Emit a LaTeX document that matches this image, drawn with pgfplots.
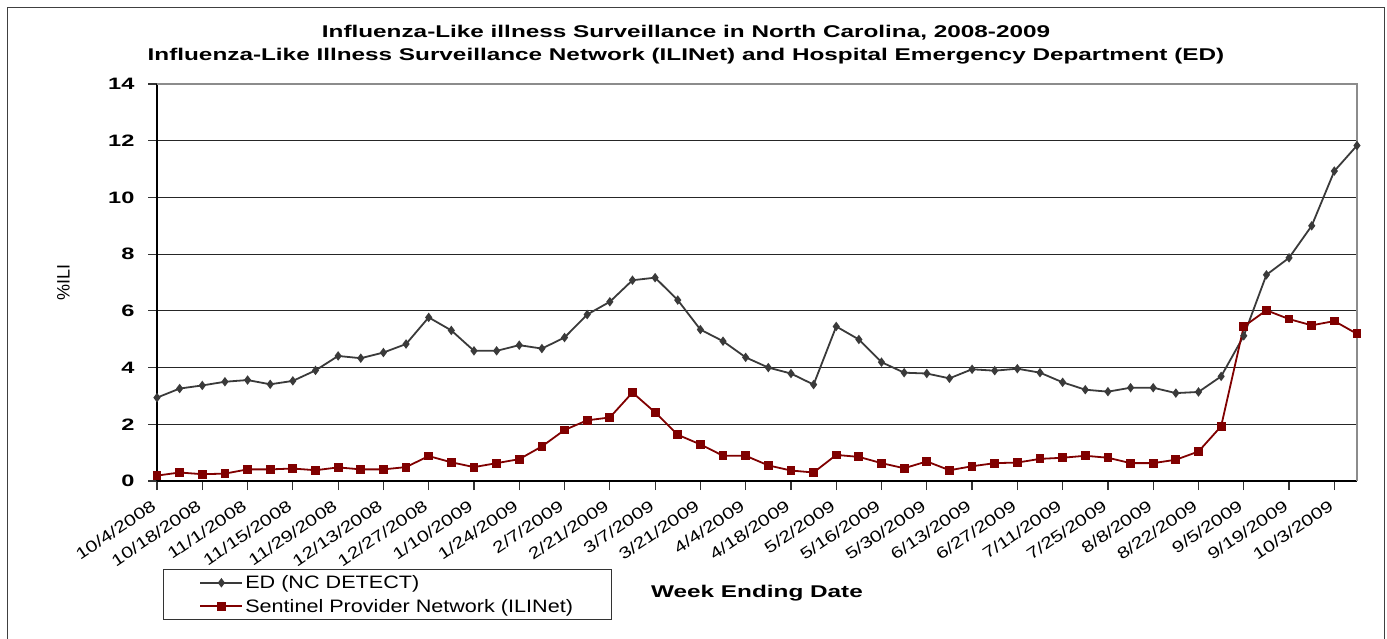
\documentclass[border=0pt]{standalone}
\usepackage{fontspec}
\setmainfont{Liberation Sans}[FakeStretch=1.43]
\newfontfamily\legfont{Liberation Sans}[FakeStretch=1.2]
\newfontfamily\xtfont{Liberation Sans}[FakeStretch=1.3]
\newfontfamily\plainfont{Liberation Sans}
\usepackage{pgfplots}
\pgfplotsset{compat=1.18}
\usepackage{pgfplotstable}
\definecolor{edgray}{HTML}{3A3A3A}
\definecolor{ilired}{HTML}{800000}
\pgfplotstableread{
x ed ili
0 2.94 0.19
1 3.26 0.30
2 3.37 0.24
3 3.50 0.26
4 3.56 0.41
5 3.41 0.41
6 3.53 0.44
7 3.90 0.38
8 4.41 0.48
9 4.33 0.41
10 4.53 0.41
11 4.83 0.49
12 5.77 0.88
13 5.31 0.66
14 4.59 0.49
15 4.59 0.63
16 4.79 0.77
17 4.67 1.22
18 5.06 1.80
19 5.87 2.14
20 6.32 2.24
21 7.08 3.12
22 7.17 2.42
23 6.38 1.63
24 5.34 1.29
25 4.93 0.89
26 4.36 0.89
27 4.00 0.55
28 3.79 0.37
29 3.40 0.30
30 5.45 0.92
31 4.99 0.85
32 4.19 0.63
33 3.82 0.45
34 3.79 0.69
35 3.62 0.38
36 3.94 0.52
37 3.89 0.63
38 3.96 0.65
39 3.82 0.78
40 3.48 0.82
41 3.22 0.89
42 3.15 0.82
43 3.29 0.63
44 3.29 0.63
45 3.10 0.75
46 3.14 1.04
47 3.69 1.93
48 5.12 5.45
49 7.27 6.02
50 7.87 5.71
51 9.00 5.49
52 10.93 5.64
53 11.83 5.19
}\datatable
\begin{document}
\begin{tikzpicture}
\useasboundingbox (0pt,0pt) rectangle (1387pt,638pt);
\draw[black!75, line width=1pt] (7.5pt,-5pt) -- (7.5pt,630pt) -- (1384.5pt,630pt) -- (1384.5pt,-5pt);
\node[font=\bfseries\fontsize{17}{21}\selectfont] at (686pt,605pt) {Influenza-Like illness Surveillance in North Carolina, 2008-2009};
\node[font=\bfseries\fontsize{17}{21}\selectfont] at (686pt,582pt) {Influenza-Like Illness Surveillance Network (ILINet) and Hospital Emergency Department (ED)};
\begin{axis}[
  at={(157pt,157pt)}, anchor=south west,
  scale only axis, width=1200pt, height=397pt,
  xmin=0, xmax=53, ymin=0, ymax=14,
  ytick={0,2,...,14},
  xtick={0,2,...,52},
  xticklabels={10/4/2008,10/18/2008,11/1/2008,11/15/2008,11/29/2008,12/13/2008,12/27/2008,1/10/2009,1/24/2009,2/7/2009,2/21/2009,3/7/2009,3/21/2009,4/4/2009,4/18/2009,5/2/2009,5/16/2009,5/30/2009,6/13/2009,6/27/2009,7/11/2009,7/25/2009,8/8/2009,8/22/2009,9/5/2009,9/19/2009,10/3/2009},
  axis x line*=bottom, axis y line*=left,
  x axis line style={-}, y axis line style={-},
  axis line style={black, line width=1.3pt},
  ymajorgrids, grid style={black!85, line width=1pt},
  tick align=outside, major tick length=9pt,
  tick style={black!80, line width=1.2pt},
  /pgf/number format/assume math mode=true,
  yticklabel style={font=\bfseries\fontsize{16.5}{17}\selectfont, xshift=-10pt},
  xticklabel style={rotate=34, anchor=east, xshift=-7pt, yshift=-10pt, font=\xtfont\fontsize{16}{16}\selectfont},
  xlabel={Week Ending Date},
  xlabel style={at={(axis description cs:0.5,-0.282)}, anchor=center, font=\bfseries\fontsize{17}{17}\selectfont},
  ylabel={\%ILI},
  ylabel style={at={(axis description cs:-0.078,0.5)}, anchor=center, font=\plainfont\fontsize{18}{18}\selectfont},
  clip=false,
  legend cell align=left,
  legend style={at={(axis description cs:0.005,-0.2217)}, anchor=north west, draw=black!80, line width=1pt, font=\legfont\fontsize{18}{20}\selectfont, inner xsep=36pt, inner ysep=4pt, row sep=5pt},
  legend image code/.code={\draw[mark repeat=2,mark phase=2] plot coordinates {(0pt,0pt) (21pt,0pt) (42pt,0pt)};},
]
\draw[black!45, line width=1.2pt] (rel axis cs:0,1) -- (rel axis cs:1,1) -- (rel axis cs:1,0);
\addplot[edgray, line width=1.8pt, mark=diamond*, mark size=3.3pt, mark options={solid, fill=edgray}] table[x=x,y=ed]{\datatable};
\addlegendentry{ED (NC DETECT)}
\addplot[ilired, line width=1.8pt, mark=square*, mark size=3.5pt, mark options={solid, fill=ilired}] table[x=x,y=ili]{\datatable};
\addlegendentry{Sentinel Provider Network (ILINet)}
\end{axis}
\end{tikzpicture}
\end{document}
